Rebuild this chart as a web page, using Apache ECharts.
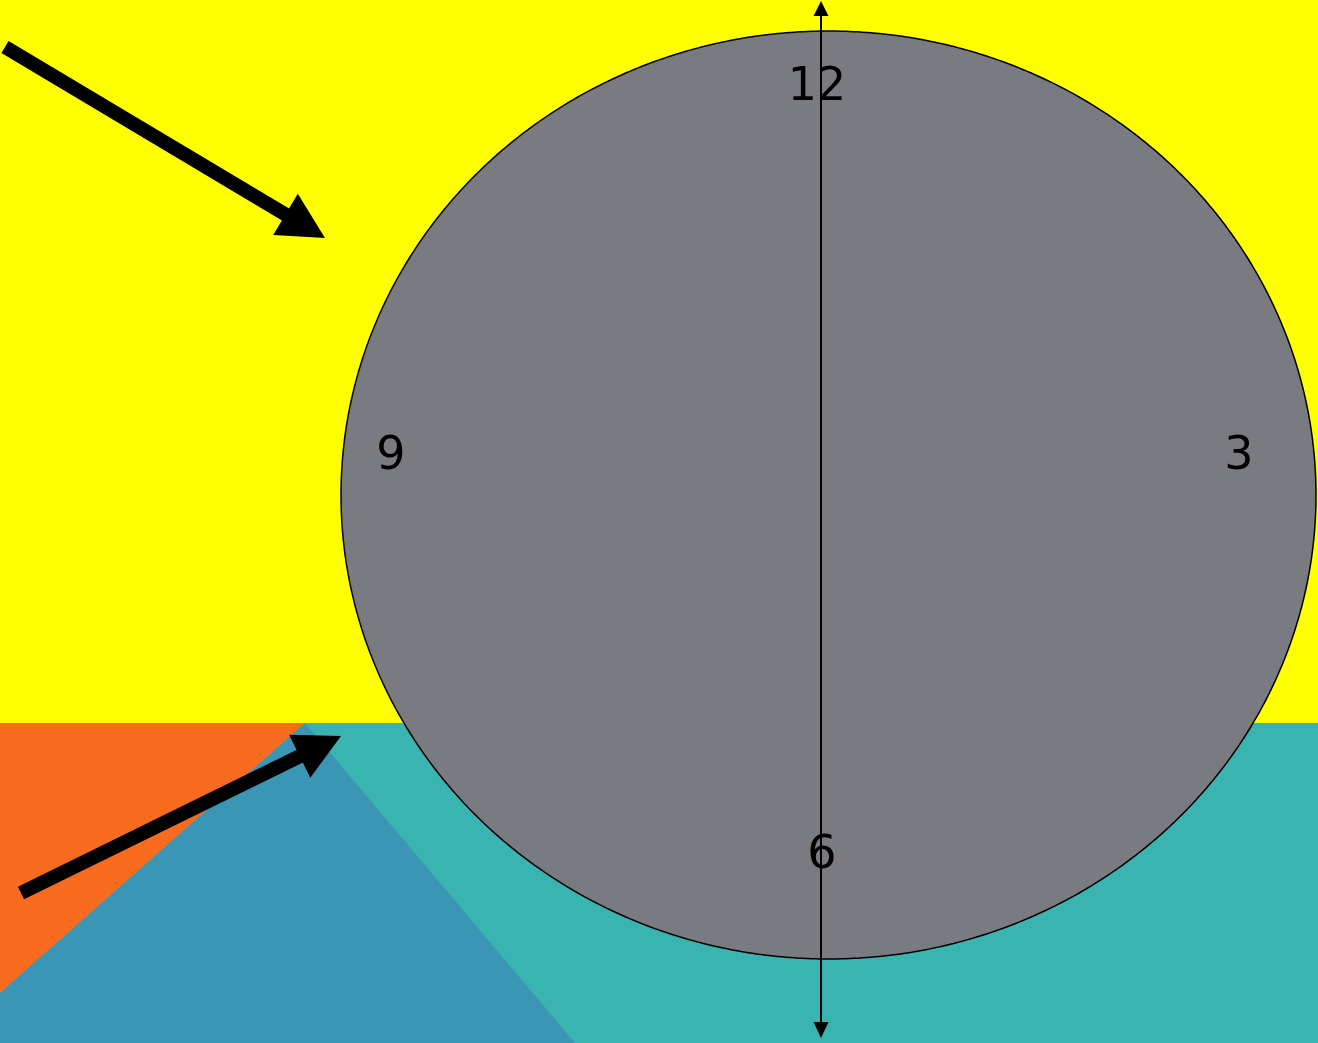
<!DOCTYPE html>
<html>
<head>
<meta charset="utf-8">
<script src="https://cdn.jsdelivr.net/npm/echarts@6/dist/echarts.min.js"></script>
<style>
html,body{margin:0;padding:0;background:#fff;}
#chart{width:1318px;height:1043px;}
</style>
</head>
<body>
<div id="chart"></div>
<script>
// Scene extents (data units = pixels of the reference)
const sceneWidth = 1318;
const sceneHeight = 1043;

// Background regions (polygons)
const regionNames = ['sky', 'ground', 'orange', 'blue'];
const skyPoints = [[0, 0], [1318, 0], [1318, 723], [0, 723]];
const groundPoints = [[0, 723], [1318, 723], [1318, 1043], [0, 1043]];
const orangePoints = [[0, 723], [305, 723], [0, 993]];
const bluePoints = [[305, 723], [575, 1043], [0, 1043], [0, 993]];
const regionColors = ['#ffff00', '#3ab4b0', '#f96b1e', '#3a96b4'];

// Clock face (ellipse)
const faceCenter = [828.5, 495];
const faceRadii = [487.5, 464];

// Vertical axis with arrowheads
const axisX = 821;
const axisTop = 1;
const axisBottom = 1038;

// Clock labels
const clockLabels = ['12', '9', '3', '6'];
const clockLabelPos = [[817, 88], [391, 457], [1239, 457], [822, 856]];

// Arrows: start point, tip point
const arrowStarts = [[5, 47], [21, 893]];
const arrowTips = [[325, 238], [341, 736]];

const chart = echarts.init(document.getElementById('chart'), null, {renderer: 'canvas'});

function renderScene(params, api) {
  const children = [];
  const regions = [skyPoints, groundPoints, orangePoints, bluePoints];
  regions.forEach((pts, i) => {
    children.push({
      type: 'polygon',
      shape: {points: pts.map(p => api.coord(p))},
      style: {fill: regionColors[i], stroke: null}
    });
  });

  // ellipse face
  const facePts = [];
  const N = 720;
  for (let k = 0; k < N; k++) {
    const t = (k / N) * Math.PI * 2;
    facePts.push(api.coord([faceCenter[0] + faceRadii[0] * Math.cos(t), faceCenter[1] + faceRadii[1] * Math.sin(t)]));
  }
  children.push({
    type: 'polygon',
    shape: {points: facePts},
    style: {fill: '#7a7b80', stroke: '#000', lineWidth: 1.5}
  });

  // vertical axis
  const top = api.coord([axisX, axisTop]);
  const bot = api.coord([axisX, axisBottom]);
  children.push({
    type: 'line',
    shape: {x1: top[0], y1: top[1] + 10, x2: bot[0], y2: bot[1] - 10},
    style: {stroke: '#000', lineWidth: 2}
  });
  children.push({
    type: 'polygon',
    shape: {points: [[top[0], top[1]], [top[0] - 7.5, top[1] + 15], [top[0] + 7.5, top[1] + 15]]},
    style: {fill: '#000'}
  });
  children.push({
    type: 'polygon',
    shape: {points: [[bot[0], bot[1]], [bot[0] - 7.5, bot[1] - 16], [bot[0] + 7.5, bot[1] - 16]]},
    style: {fill: '#000'}
  });

  // thick arrows
  arrowStarts.forEach((s, i) => {
    const a = api.coord(s);
    const b = api.coord(arrowTips[i]);
    const dx = b[0] - a[0], dy = b[1] - a[1];
    const len = Math.sqrt(dx * dx + dy * dy);
    const ux = dx / len, uy = dy / len;
    const nx = -uy, ny = ux;
    const headLen = 46, headHalf = 24, shaftHalf = 7;
    const bx = b[0] - ux * headLen, by = b[1] - uy * headLen;
    children.push({
      type: 'polygon',
      shape: {points: [
        [a[0] + nx * shaftHalf, a[1] + ny * shaftHalf],
        [bx + ux * 2 + nx * shaftHalf, by + uy * 2 + ny * shaftHalf],
        [bx + ux * 2 - nx * shaftHalf, by + uy * 2 - ny * shaftHalf],
        [a[0] - nx * shaftHalf, a[1] - ny * shaftHalf]
      ]},
      style: {fill: '#000'}
    });
    children.push({
      type: 'polygon',
      shape: {points: [
        [b[0], b[1]],
        [bx + nx * headHalf, by + ny * headHalf],
        [bx - nx * headHalf, by - ny * headHalf]
      ]},
      style: {fill: '#000'}
    });
  });

  // labels
  clockLabels.forEach((t, i) => {
    const p = api.coord(clockLabelPos[i]);
    children.push({
      type: 'text',
      style: {
        text: t, x: p[0], y: p[1],
        fill: '#000', fontSize: 46,
        fontFamily: '"DejaVu Sans", sans-serif',
        align: 'center', verticalAlign: 'middle'
      }
    });
  });

  return {type: 'group', children: children};
}

chart.setOption({
  animation: false,
  backgroundColor: '#ffff00',
  grid: {left: 0, right: 0, top: 0, bottom: 0},
  xAxis: {type: 'value', min: 0, max: sceneWidth, show: false},
  yAxis: {type: 'value', min: 0, max: sceneHeight, inverse: true, show: false},
  series: [{
    type: 'custom',
    coordinateSystem: 'cartesian2d',
    clip: false,
    silent: true,
    data: [[0, 0]],
    renderItem: renderScene
  }]
});
</script>
</body>
</html>
